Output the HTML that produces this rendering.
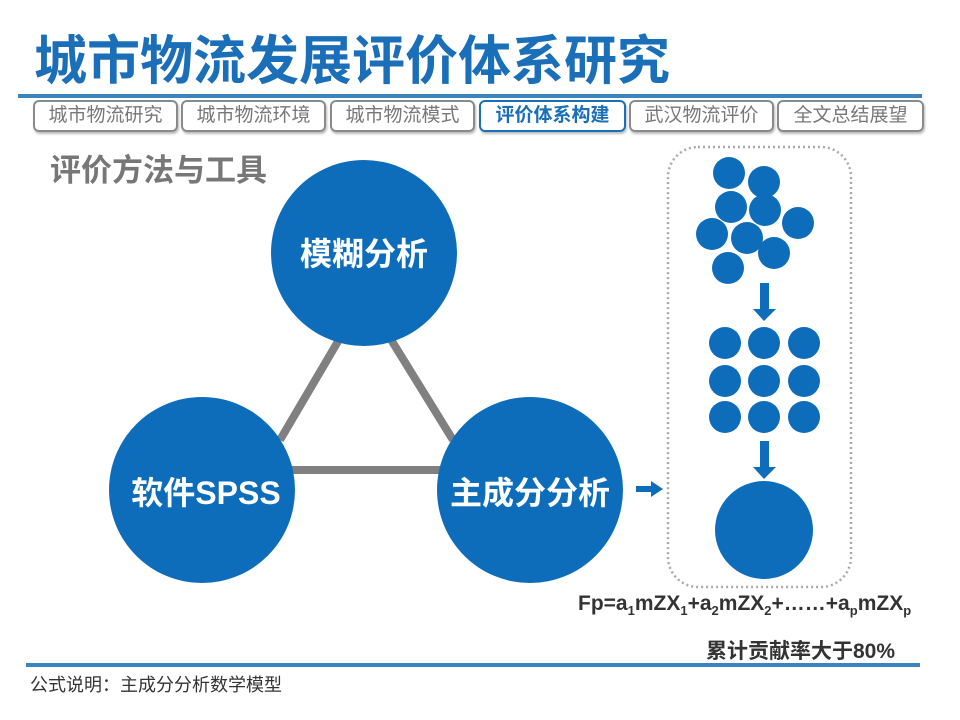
<!DOCTYPE html>
<html><head><meta charset="utf-8"><style>
body{margin:0;width:960px;height:720px;background:#fff;position:relative;overflow:hidden;font-family:"Liberation Sans","Noto Sans CJK SC",sans-serif}
.t{position:absolute;white-space:nowrap}
.tab{position:absolute;top:100px;height:32px;border:2px solid #8a8a8a;border-radius:6px;box-sizing:border-box;font-size:19px;color:#777;text-align:center;line-height:28px;box-shadow:1px 2px 2px #bbb}
</style></head><body>
<div class="t" style="left:34px;top:30px;font-size:53px;font-weight:bold;color:#1a6fb8;letter-spacing:0px;line-height:64px">城市物流发展评价体系研究</div>
<div style="position:absolute;left:18px;top:94px;width:904px;height:4px;background:#3a85c0"></div>
<div class="tab" style="left:33px;width:145px">城市物流研究</div>
<div class="tab" style="left:181px;width:145px">城市物流环境</div>
<div class="tab" style="left:330px;width:145px">城市物流模式</div>
<div class="tab" style="left:479px;width:147px;border-color:#1a6fb8;color:#1a6fb8;font-weight:bold">评价体系构建</div>
<div class="tab" style="left:629px;width:145px">武汉物流评价</div>
<div class="tab" style="left:777px;width:147px">全文总结展望</div>
<div class="t" style="left:50px;top:145px;font-size:31px;font-weight:bold;color:#777">评价方法与工具</div>
<svg width="960" height="720" style="position:absolute;left:0;top:0">
<g stroke="#808080" stroke-width="8">
<line x1="280" y1="440" x2="340" y2="338"/><line x1="390" y1="338" x2="453" y2="440"/><line x1="290" y1="470" x2="445" y2="470"/></g>
<g fill="#0e6dba">
<circle cx="364" cy="253" r="93"/><circle cx="202" cy="490" r="93"/><circle cx="530" cy="490" r="93"/>
<rect x="636" y="486" width="16" height="6"/><polygon points="651,481 663,489 651,497"/>
<circle cx="729" cy="173" r="16"/><circle cx="764" cy="182" r="16"/><circle cx="731" cy="207" r="16"/><circle cx="765" cy="210" r="16"/><circle cx="798" cy="223" r="16"/><circle cx="712" cy="234" r="16"/><circle cx="747" cy="238" r="16"/><circle cx="774" cy="253" r="16"/><circle cx="728" cy="268" r="16"/>
<rect x="760" y="283" width="9" height="27"/><polygon points="753,309 776,309 764,321"/>
<circle cx="725" cy="343" r="16"/><circle cx="764" cy="343" r="16"/><circle cx="804" cy="343" r="16"/>
<circle cx="725" cy="381" r="16"/><circle cx="764" cy="381" r="16"/><circle cx="804" cy="381" r="16"/>
<circle cx="725" cy="417" r="16"/><circle cx="764" cy="417" r="16"/><circle cx="804" cy="417" r="16"/>
<rect x="760" y="441" width="9" height="27"/><polygon points="753,467 776,467 764,479"/>
<circle cx="764" cy="530" r="49"/></g>
<rect x="668" y="147" width="183" height="440" rx="30" fill="none" stroke="#aaa" stroke-width="2.5" stroke-dasharray="2,3"/>
<g fill="#fff" font-weight="bold" font-size="32" text-anchor="middle" font-family="Liberation Sans,Noto Sans CJK SC,sans-serif">
<text x="364" y="265">模糊分析</text><text x="206" y="504">软件SPSS</text><text x="530" y="504">主成分分析</text></g>
</svg>
<div class="t" style="left:578px;top:592px;font-size:21px;font-weight:bold;color:#333">Fp=a<sub style="font-size:13px">1</sub>mZX<sub style="font-size:13px">1</sub>+a<sub style="font-size:13px">2</sub>mZX<sub style="font-size:13px">2</sub>+……+a<sub style="font-size:13px">p</sub>mZX<sub style="font-size:13px">p</sub></div>
<div class="t" style="left:706px;top:635px;font-size:21px;font-weight:bold;color:#333">累计贡献率大于80%</div>
<div style="position:absolute;left:26px;top:663px;width:894px;height:4px;background:#3a85c0"></div>
<div class="t" style="left:30px;top:671px;font-size:18px;color:#333">公式说明：主成分分析数学模型</div>
</body></html>
